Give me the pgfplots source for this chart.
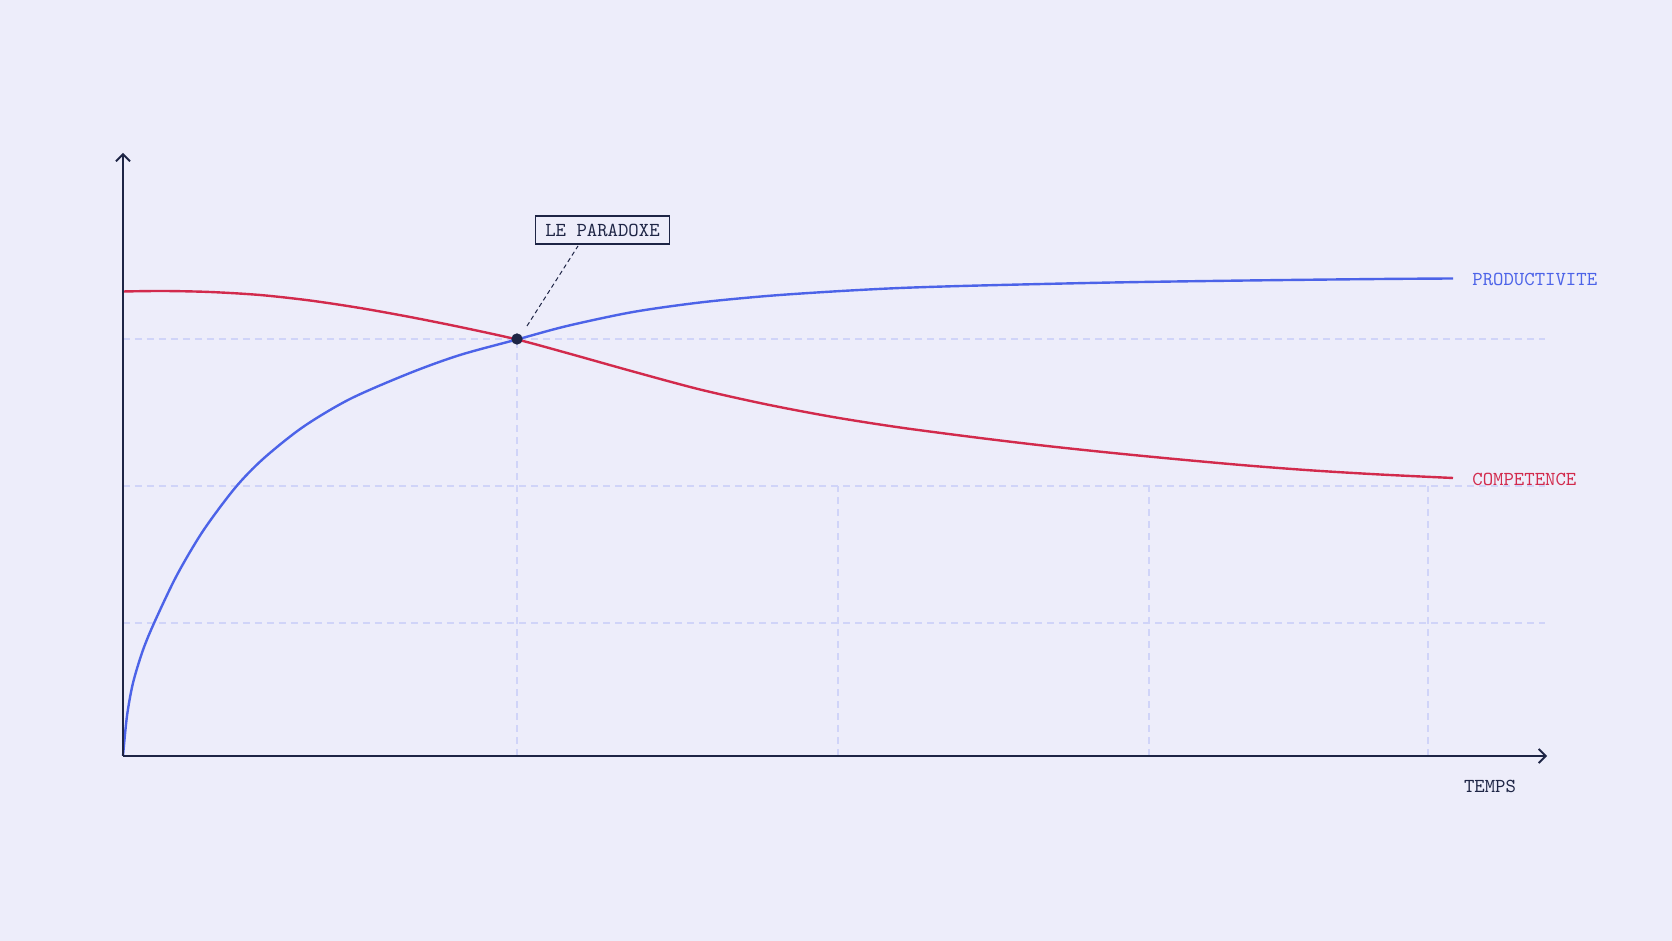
\documentclass[border=0pt]{standalone}
\usepackage{fontspec}
\newfontfamily\chartfont{Latin Modern Mono}
\usepackage{pgfplots}
\pgfplotsset{compat=1.18}
\usetikzlibrary{arrows.meta}

\definecolor{bg}{RGB}{237,237,250}
\definecolor{ink}{RGB}{30,37,69}
\definecolor{prod}{RGB}{76,99,232}
\definecolor{comp}{RGB}{210,42,76}
\definecolor{gridc}{RGB}{208,212,248}

\newcommand{\lab}{\chartfont\fontsize{9.9}{11}\selectfont}

\begin{document}
\begin{tikzpicture}
\begin{axis}[
    x=0.5pt, y=0.5pt,
    xmin=0, xmax=1424,
    ymin=0, ymax=603,
    hide axis,
    clip=false,
]
% page background
\fill[bg] (axis cs:-123,-185) rectangle (axis cs:1549,756);

% partial dashed grid
\begin{scope}[gridc, line width=0.55pt, dash pattern=on 3.5pt off 2.5pt]
  \draw (axis cs:0,417) -- (axis cs:1422,417);
  \draw (axis cs:0,270) -- (axis cs:1422,270);
  \draw (axis cs:0,133) -- (axis cs:1422,133);
  \draw (axis cs:394,0) -- (axis cs:394,417);
  \draw (axis cs:715,0) -- (axis cs:715,270);
  \draw (axis cs:1026,0) -- (axis cs:1026,270);
  \draw (axis cs:1305,0) -- (axis cs:1305,270);
\end{scope}

% competence
\addplot[comp, line width=1.2pt, smooth] coordinates {
  (0,464.5) (40,465) (87,464) (137,461) (187,455.5) (237,448)
  (287,439) (337,429) (394,416.5) (444,403) (510,384.5) (577,366.5)
  (644,351.5) (710,339) (777,328.5) (857,318) (924,310) (990,303)
  (1057,296.5) (1124,290.5) (1190,285.5) (1257,281.5) (1330,278)
};

% productivite
\addplot[prod, line width=1.2pt, smooth] coordinates {
  (0,0) (4,40) (10,73) (20,106) (32,135) (54,181) (80,225) (112,268)
  (140,297) (180,329) (227,357) (287,383) (337,401) (394,416.5)
  (444,430) (510,444) (577,453.5) (644,460) (710,464.5) (777,468)
  (857,470.5) (990,473.5) (1124,475.5) (1257,477) (1330,477.5)
};

% axes
\draw[ink, line width=0.9pt, -{Straight Barb[length=3.5pt,width=7pt]}]
  (axis cs:0,0) -- (axis cs:1424,0);
\draw[ink, line width=0.9pt, -{Straight Barb[length=3.5pt,width=7pt]}]
  (axis cs:0,0) -- (axis cs:0,603);

% crossing point
\addplot[only marks, mark=*, mark size=2.6pt, ink] coordinates {(394,417)};

% annotation
\draw[ink, line width=0.5pt, dash pattern=on 2.2pt off 1.6pt]
  (axis cs:404,430) -- (axis cs:455,510);
\node[draw=ink, fill=bg, line width=0.55pt, text=ink, inner xsep=5pt,
      minimum height=14pt, anchor=center, font=\lab]
  at (axis cs:479.5,526) {LE PARADOXE};

% labels
\node[text=prod, anchor=west, inner sep=0pt, font=\lab] at (axis cs:1349,477) {PRODUCTIVITE};
\node[text=comp, anchor=west, inner sep=0pt, font=\lab] at (axis cs:1349,277) {COMPETENCE};
\node[text=ink, anchor=center, inner sep=0pt, font=\lab] at (axis cs:1367,-30) {TEMPS};
\end{axis}
\end{tikzpicture}
\end{document}
